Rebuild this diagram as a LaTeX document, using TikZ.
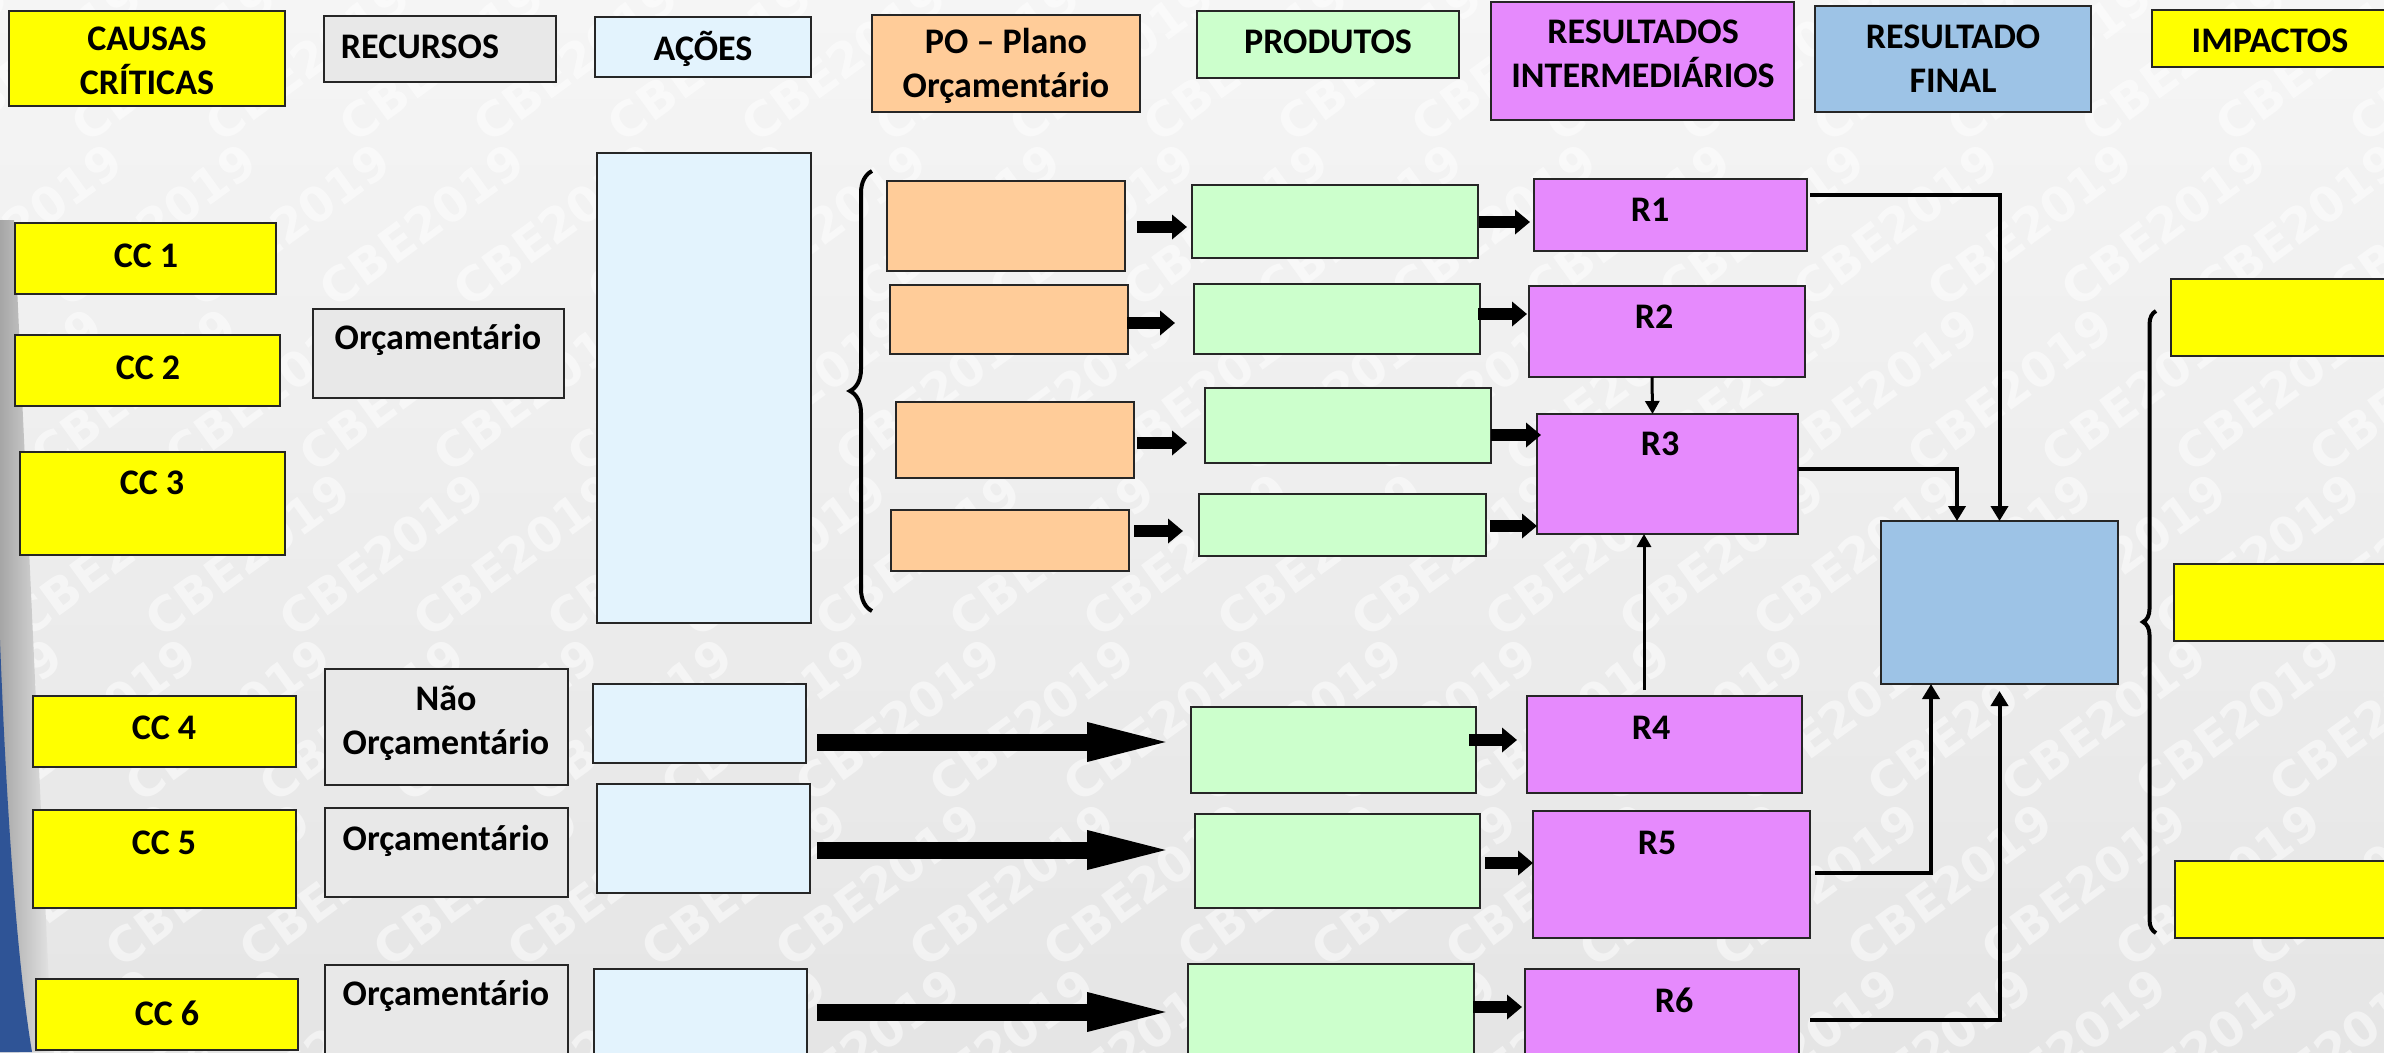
\documentclass[tikz,border=0pt]{standalone}
\usepackage{fontspec}
\newfontfamily\calfont{Carlito}
\newfontfamily\wmfont{DejaVu Sans}
\usetikzlibrary{arrows.meta,decorations.pathreplacing,calc}
\definecolor{cy}{HTML}{FFFF00}
\definecolor{cg}{HTML}{E8E8E8}
\definecolor{cb}{HTML}{E3F3FD}
\definecolor{co}{HTML}{FFCC99}
\definecolor{cgr}{HTML}{CCFFCC}
\definecolor{cm}{HTML}{E68AFD}
\definecolor{cf}{HTML}{9DC3E6}
\definecolor{bgtop}{HTML}{F5F5F5}
\definecolor{bgbot}{HTML}{E5E5E5}
\definecolor{edgeblue}{HTML}{2F5496}
\tikzset{
 box/.style={draw=black!85, line width=2.5pt, inner sep=0pt, outer sep=0pt},
 ybox/.style={box, fill=cy},
 gbox/.style={box, fill=cg},
 bbox/.style={box, fill=cb},
 obox/.style={box, fill=co},
 grbox/.style={box, fill=cgr},
 mbox/.style={box, fill=cm},
 fbox/.style={box, fill=cf},
 lbl/.style={font=\calfont\bfseries\fontsize{36}{44}\selectfont, align=center, inner sep=0pt, text=black},
 fat/.style={line width=12pt, -{Triangle[width=24pt,length=15pt]}},
 bigfat/.style={line width=17pt, -{Triangle[width=34pt,length=90pt]}},
 conn/.style={line width=4pt, -{Triangle[width=17pt,length=15pt]}},
 thinconn/.style={line width=3pt, -{Triangle[width=14pt,length=13pt]}},
 wm/.style={font=\wmfont\bfseries\fontsize{48}{48}\selectfont, text=white, opacity=0.5, rotate=36, inner sep=0pt},
 bracestyle/.style={line width=4pt, decorate},
}
\newcommand\bx[6]{\node[#2, minimum width={(#5)-(#3)}, minimum height={(#6)-(#4)}] (#1) at ({((#3)+(#5))/2},{((#4)+(#6))/2}) {};}
\begin{document}
\begin{tikzpicture}[x=1pt,y=-1pt]
\useasboundingbox (0,0) rectangle (2384,1052);
\clip (0,0) rectangle (2384,1052);
\shade[top color=bgtop, bottom color=bgbot] (0,0) rectangle (2384,1052);
\foreach \i in {-2,...,19}{\foreach \j in {0,...,7}{
  \node[wm] (wm\i-\j) at ({\i*134-\j*20+40},{\j*165+60}) {CBE2019};}}
% left edge decoration
\shade[left color=black!35, right color=bgbot] (0,220) -- (14,220) -- (52,1052) -- (0,1052) -- cycle;
\fill[edgeblue] (0,640) .. controls (8,850) and (20,980) .. (32,1052) -- (0,1052) -- cycle;

% headers
\bx{hcausas}{ybox}{9}{11}{285}{106}
\node[lbl] (thcausas) at (147,61) {CAUSAS\\CRÍTICAS};
\bx{hrec}{gbox}{324}{16}{556}{82}
\node[lbl] (threc) at (420,47) {RECURSOS};
\bx{hacoes}{bbox}{595}{17}{811}{77}
\node[lbl] (thacoes) at (703,49) {AÇÕES};
\bx{hpo}{obox}{872}{15}{1140}{112}
\node[lbl] (thpo) at (1006,66) {PO – Plano\\Orçamentário};
\bx{hprod}{grbox}{1197}{11}{1459}{78}
\node[lbl] (thprod) at (1328,42) {PRODUTOS};
\bx{hri}{mbox}{1491}{2}{1794}{120}
\node[lbl] (thri) at (1643,54) {RESULTADOS\\INTERMEDIÁRIOS};
\bx{hrf}{fbox}{1815}{6}{2091}{112}
\node[lbl] (thrf) at (1953,59) {RESULTADO\\FINAL};
\bx{himp}{ybox}{2152}{10}{2400}{67}
\node[lbl] (thimp) at (2270,41) {IMPACTOS};

% causas criticas
\bx{cc1}{ybox}{15}{223}{276}{294}
\node[lbl] (tcc1) at (146,256) {CC 1};
\bx{cc2}{ybox}{15}{335}{280}{406}
\node[lbl] (tcc2) at (148,368) {CC 2};
\bx{cc3}{ybox}{20}{452}{285}{555}
\node[lbl] (tcc3) at (152,483) {CC 3};
\bx{cc4}{ybox}{33}{696}{296}{767}
\node[lbl] (tcc4) at (164,728) {CC 4};
\bx{cc5}{ybox}{33}{810}{296}{908}
\node[lbl] (tcc5) at (164,843) {CC 5};
\bx{cc6}{ybox}{36}{979}{298}{1050}
\node[lbl] (tcc6) at (167,1013) {CC 6};

% recursos
\bx{rec1}{gbox}{313}{309}{564}{398}
\node[lbl] (trec1) at (438,340) {Orçamentário};
\bx{rec4}{gbox}{325}{669}{568}{785}
\node[lbl] (trec4) at (446,723) {Não\\Orçamentário};
\bx{rec5}{gbox}{325}{808}{568}{897}
\node[lbl] (trec5) at (446,841) {Orçamentário};
\bx{rec6}{gbox}{325}{965}{568}{1070}
\node[lbl] (trec6) at (446,996) {Orçamentário};

% acoes
\bx{ac1}{bbox}{597}{153}{811}{623}
\bx{ac4}{bbox}{593}{684}{806}{763}
\bx{ac5}{bbox}{597}{784}{810}{893}
\bx{ac6}{bbox}{594}{969}{807}{1070}

% PO
\bx{po1}{obox}{887}{181}{1125}{271}
\bx{po2}{obox}{890}{285}{1128}{354}
\bx{po3}{obox}{896}{402}{1134}{478}
\bx{po4}{obox}{891}{510}{1129}{571}

% produtos
\bx{p1}{grbox}{1192}{185}{1478}{258}
\bx{p2}{grbox}{1194}{284}{1480}{354}
\bx{p3}{grbox}{1205}{388}{1491}{463}
\bx{p4}{grbox}{1199}{494}{1486}{556}
\bx{p5}{grbox}{1191}{707}{1476}{793}
\bx{p6}{grbox}{1195}{814}{1480}{908}
\bx{p7}{grbox}{1188}{964}{1474}{1070}

% resultados intermediarios
\bx{r1}{mbox}{1534}{179}{1807}{251}
\node[lbl] (tr1) at (1650,210) {R1};
\bx{r2}{mbox}{1529}{286}{1805}{377}
\node[lbl] (tr2) at (1654,317) {R2};
\bx{r3}{mbox}{1537}{414}{1798}{534}
\node[lbl] (tr3) at (1660,444) {R3};
\bx{r4}{mbox}{1527}{696}{1802}{793}
\node[lbl] (tr4) at (1651,728) {R4};
\bx{r5}{mbox}{1533}{811}{1810}{938}
\node[lbl] (tr5) at (1657,843) {R5};
\bx{r6}{mbox}{1525}{969}{1799}{1070}
\node[lbl] (tr6) at (1674,1000) {R6};

% resultado final
\bx{rf}{fbox}{1881}{521}{2118}{684}

% impactos
\bx{i1}{ybox}{2171}{279}{2400}{356}
\bx{i2}{ybox}{2174}{564}{2400}{641}
\bx{i3}{ybox}{2175}{861}{2400}{938}

% braces
\draw[bracestyle, decoration={brace, amplitude=22pt, aspect=0.5}] (872,611) -- (872,171);
\draw[bracestyle, decoration={brace, amplitude=13pt, aspect=0.5}] (2156,933) -- (2156,311);

% fat arrows PO -> produtos
\coordinate (fa1) at (1137,227);
\coordinate (fa2) at (1127,323);
\coordinate (fa3) at (1137,443);
\coordinate (fa4) at (1134,531);
\draw[fat] (fa1) -- ($(fa1 -| p1.west)+(-5,0)$);
\draw[fat] (fa2) -- ($(fa2 -| p2.west)+(-19,0)$);
\draw[fat] (fa3) -- ($(fa3 -| p3.west)+(-18,0)$);
\draw[fat] (fa4) -- ($(fa4 -| p4.west)+(-16,0)$);
% fat arrows produtos -> R
\coordinate (fb1) at (1479,222);
\coordinate (fb2) at (1478,314);
\coordinate (fb3) at (1491,435);
\coordinate (fb4) at (1490,526);
\coordinate (fb5) at (1469,740);
\coordinate (fb6) at (1485,863);
\coordinate (fb7) at (1473,1007);
\draw[fat] (fb1) -- ($(fb1 -| r1.west)+(-4,0)$);
\draw[fat] (fb2) -- ($(fb2 -| r2.west)+(-2,0)$);
\draw[fat] (fb3) -- ($(fb3 -| r3.west)+(4,0)$);
\draw[fat] (fb4) -- (fb4 -| r3.west);
\draw[fat] (fb5) -- ($(fb5 -| r4.west)+(-10,0)$);
\draw[fat] (fb6) -- (fb6 -| r5.west);
\draw[fat] (fb7) -- ($(fb7 -| r6.west)+(-3,0)$);
% big arrows acoes -> produtos
\coordinate (ga4) at (817,742);
\coordinate (ga5) at (817,850);
\coordinate (ga6) at (817,1012);
\draw[bigfat] (ga4) -- ($(ga4 -| p5.west)+(-14,0)$);
\draw[bigfat] (ga5) -- ($(ga5 -| p6.west)+(-18,0)$);
\draw[bigfat] (ga6) -- ($(ga6 -| p7.west)+(-11,0)$);

% connectors to resultado final
\draw[conn] ($(r1.east)+(3,-20)$) -| (rf.north);
\draw[conn] ($(r3.east)+(0,-5)$) -| ($(rf.north west)+(76,0)$);
\draw[conn] ($(r5.east)+(5,-2)$) -| ($(rf.south west)+(50,0)$);
\draw[conn] ($(r6.east)+(11,0)$) -| ($(rf.south)+(0,7)$);
% between R boxes
\draw[thinconn] ($(r2.south)+(-15,0)$) -- ($(r3.north)+(-15,0)$);
\coordinate (r4top) at (1644,690);
\draw[thinconn] (r4top) -- (r4top |- r3.south);
\end{tikzpicture}
\end{document}
